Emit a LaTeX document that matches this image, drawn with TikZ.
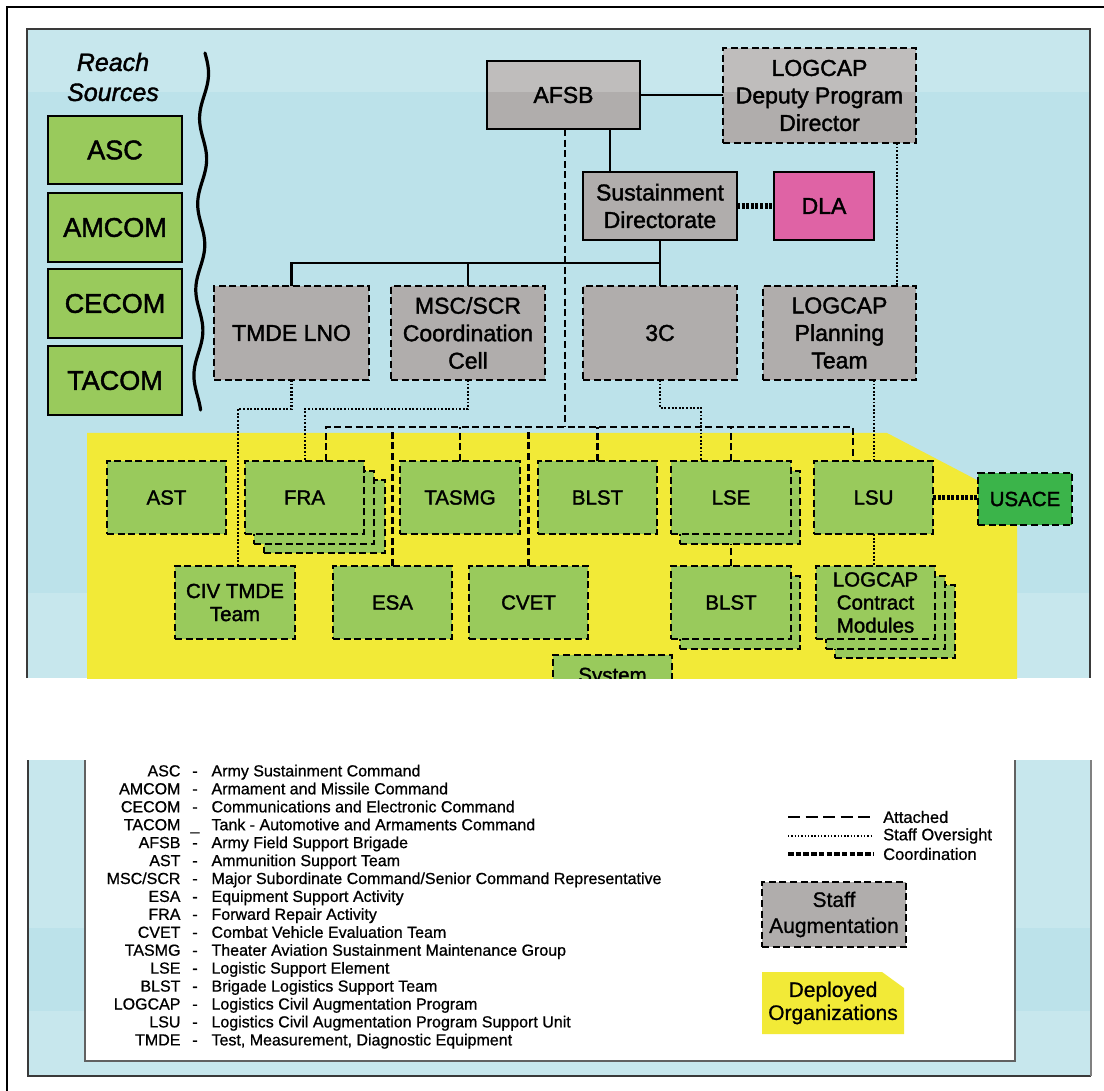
\documentclass[tikz,border=0pt]{standalone}
\usepackage{fontspec}
\setmainfont{Liberation Sans}
\newfontfamily\bsans{Liberation Sans}[FakeBold=1.6]
\newfontfamily\lsans{Liberation Sans}[FakeBold=0.8]
\usetikzlibrary{calc}
\definecolor{bluebg}{HTML}{BCE2EA}
\definecolor{bluelt}{HTML}{C7E7ED}
\definecolor{yel}{HTML}{F2EA37}
\definecolor{grn}{HTML}{99CA5C}
\definecolor{dkgrn}{HTML}{3BB44A}
\definecolor{gry}{HTML}{B0ADAC}
\definecolor{pnk}{HTML}{DF63A5}
\definecolor{edge}{HTML}{3A3A3A}
\newcommand\fRs{\bsans\fontsize{27}{32}\selectfont}
\newcommand\fUp{\bsans\fontsize{23}{27.5}\selectfont}
\newcommand\fLo{\bsans\fontsize{20.5}{23}\selectfont}
\newcommand\fLg{\lsans\fontsize{16}{18}\selectfont}
\newcommand\fLr{\lsans\fontsize{16.5}{19}\selectfont}
\newcommand\fLb{\lsans\fontsize{21}{26}\selectfont}
% box by corners: style, name, x1, y1, x2, y2, text
\newcommand\mkbox[7]{\node[#1, minimum width={(#5)-(#3)}, minimum height={(#6)-(#4)}] (#2) at ({((#3)+(#5))/2},{((#4)+(#6))/2}) {#7};}
\tikzset{
  box/.style={draw=black, line width=2.8pt, inner sep=0pt, outer sep=0pt, align=center},
  dbox/.style={box, dash pattern=on 7pt off 3.6pt},
  upbox/.style={font=\fUp},
  lobox/.style={font=\fLo},
  topband/.style={path picture={\fill[white, opacity=0.2] (path picture bounding box.north west) rectangle ([yshift=#1]path picture bounding box.east);}},
  solidln/.style={line width=2.8pt},
  attached/.style={line width=2.8pt, dash pattern=on 7pt off 3.6pt},
  oversight/.style={line width=2.6pt, dash pattern=on 1.9pt off 1.7pt},
  coordln/.style={line width=5.5pt, dash pattern=on 3pt off 1.6pt},
  legab/.style={font=\fLg, anchor=base east},
  legds/.style={font=\fLg, anchor=base},
  legtx/.style={font=\fLg, anchor=base west},
}
\begin{document}
\begin{tikzpicture}[x=1pt,y=-1pt]
\useasboundingbox (0,0) rectangle (1104,1091);
% outer frame (top and left)
\draw[line width=2pt] (7,1091) -- (7,7) -- (1104,7);

% ---------- upper panel ----------
\begin{scope}
\clip (27,29) rectangle (1091,678);
\fill[bluebg] (27,29) rectangle (1090,678);
\fill[bluelt] (27,29) rectangle (1090,92);
\fill[bluelt] (27,593) rectangle (1090,678);
% deployed (yellow) area
\fill[yel] (87,700) -- (87,433) -- (887,433) -- (1017,501) -- (1017,700) -- cycle;

% wavy separator
\draw[line width=3.2pt, line cap=round] plot[domain=53:410, samples=140, smooth]
  ({205 - 0.022*(\x-53) + 4*sin(4.2*(\x-53))}, \x);

% Reach sources
\node[font=\bsans\fontsize{25}{30}\selectfont\itshape, align=center] (reach) at (113,77) {Reach\\Sources};
\mkbox{box, fill=grn, font=\fRs}{asc}{48}{116}{182}{184}{ASC}
\mkbox{box, fill=grn, font=\fRs}{amcom}{48}{193}{182}{262}{AMCOM}
\mkbox{box, fill=grn, font=\fRs}{cecom}{48}{269}{182}{338}{CECOM}
\mkbox{box, fill=grn, font=\fRs}{tacom}{48}{346}{182}{415}{TACOM}

% ---- coordinates for connectors ----
\coordinate (r1) at (610,0);
\coordinate (r2) at (897,0);
\coordinate (r3) at (874,0);
\coordinate (r4) at (565,0);
\coordinate (busS) at (660,263);
\coordinate (ov1) at (238,409);
\coordinate (ov2) at (305,409);
\coordinate (ov3) at (701,408);
\coordinate (abus) at (565,427);
\coordinate (aL) at (326,427);
\coordinate (aR) at (853,427);

% boxes (upper)
\mkbox{box, fill=gry, upbox, topband=3pt}{afsb}{487}{61}{640}{129}{AFSB}
\mkbox{dbox, fill=gry, upbox, topband=3.5pt}{logdpd}{723}{48}{916}{143}{LOGCAP\\Deputy Program\\Director}
\mkbox{box, fill=gry, upbox}{sdir}{583}{172}{737}{240}{Sustainment\\Directorate}
\mkbox{box, fill=pnk, upbox}{dla}{774}{172}{874}{240}{DLA}
\mkbox{dbox, fill=gry, upbox}{tmde}{214}{286}{369}{380}{TMDE LNO}
\mkbox{dbox, fill=gry, upbox}{msc}{391}{286}{545}{380}{MSC/SCR\\Coordination\\Cell}
\mkbox{dbox, fill=gry, upbox}{c3}{583}{286}{737}{380}{3C}
\mkbox{dbox, fill=gry, upbox}{logpt}{763}{286}{916}{380}{LOGCAP\\Planning\\Team}

% connectors (upper)
\draw[solidln] (afsb.east) -- (afsb.east -| logdpd.west);
\draw[solidln] (r1 |- afsb.south) -- (r1 |- sdir.north);
\draw[coordln] (sdir.east) -- (dla.west);
\draw[solidln] (sdir.south) -- (c3.north);
\draw[solidln] (busS) -| (tmde.north);
\draw[solidln] (busS -| msc.north) -- (msc.north);
\draw[oversight] (r2 |- logdpd.south) -- (r2 |- logpt.north);

% boxes (lower), shadows first
\mkbox{dbox, fill=grn, lobox}{fra3}{264}{480}{385}{553}{}
\mkbox{dbox, fill=grn, lobox}{fra2}{254}{471}{374}{544}{}
\mkbox{dbox, fill=grn, lobox}{fra}{245}{461}{364}{534}{FRA}
\mkbox{dbox, fill=grn, lobox}{ast}{107}{461}{226}{534}{AST}
\mkbox{dbox, fill=grn, lobox}{tasmg}{400}{461}{520}{534}{TASMG}
\mkbox{dbox, fill=grn, lobox}{blst}{538}{461}{657}{534}{BLST}
\mkbox{dbox, fill=grn, lobox}{lse2}{680}{471}{800}{544}{}
\mkbox{dbox, fill=grn, lobox}{lse}{671}{461}{791}{534}{LSE}
\mkbox{dbox, fill=grn, lobox}{lsu}{814}{461}{933}{534}{LSU}
\mkbox{dbox, fill=dkgrn, lobox}{usace}{978}{473}{1072}{525}{USACE}
\mkbox{dbox, fill=grn, lobox}{civ}{175}{566}{295}{639}{CIV TMDE\\Team}
\mkbox{dbox, fill=grn, lobox}{esa}{333}{566}{452}{639}{ESA}
\mkbox{dbox, fill=grn, lobox}{cvet}{469}{566}{588}{639}{CVET}
\mkbox{dbox, fill=grn, lobox}{blst2b}{680}{576}{800}{649}{}
\mkbox{dbox, fill=grn, lobox}{blst2}{671}{566}{791}{639}{BLST}
\mkbox{dbox, fill=grn, lobox}{lcm3}{835}{585}{955}{658}{}
\mkbox{dbox, fill=grn, lobox}{lcm2}{826}{576}{945}{649}{}
\mkbox{dbox, fill=grn, lobox}{lcm}{816}{566}{935}{639}{LOGCAP\\Contract\\Modules}
\mkbox{dbox, fill=grn, lobox}{sys}{553}{655}{672}{699}{System}

% connectors (lower)
\draw[oversight] (tmde.south) |- (ov1) -- (ov1 |- civ.north);
\draw[oversight] (msc.south) |- (ov2) -- (ov2 |- fra.north);
\draw[oversight] (c3.south) |- (ov3) -- (ov3 |- lse.north);
\draw[oversight] (r3 |- logpt.south) -- (r3 |- lsu.north);
\draw[oversight] (r3 |- lsu.south) -- (r3 |- lcm.north);
\draw[attached] (r4 |- afsb.south) -- (abus);
\draw[attached] (aL |- fra.north) -- (aL) -- (aR) -- (aR |- lsu.north);
\foreach \nd in {esa,tasmg,cvet,blst,lse}
  \draw[attached] (\nd.north) -- (\nd.north |- abus);
\draw[attached] (blst2.north) -- (blst2.north |- lse2.south);
\draw[coordln] (lsu.east) -- (lsu.east -| usace.west);
\end{scope}
% upper panel edges
\draw[edge, line width=1.3pt] (27,678) -- (27,29) -- (1090,29) -- (1090,678);

% ---------- lower panel ----------
\fill[bluelt] (28,760) rectangle (1091,1076);
\fill[bluebg] (28,928) rectangle (1091,1011);
\draw[edge, line width=1.5pt] (28,760) -- (28,1076) -- (1091,1076);
\draw[gray, line width=1.3pt] (1091,760) -- (1091,1076);
\fill[white] (85,760) rectangle (1015,1061);
\draw[edge!80, line width=1.5pt] (85,760) -- (85,1061) -- (1015,1061) -- (1015,760);

% glossary
\node[legab] (a1) at (184,776.4) {ASC};      \node[legds] (d1) at (195,776.4) {-}; \node[legtx] (t1) at (208,776.4) {Army Sustainment Command};
\node[legab] (a2) at (184,794.3) {AMCOM};    \node[legds] (d2) at (195,794.3) {-}; \node[legtx] (t2) at (208,794.3) {Armament and Missile Command};
\node[legab] (a3) at (184,812.3) {CECOM};    \node[legds] (d3) at (195,812.3) {-}; \node[legtx] (t3) at (208,812.3) {Communications and Electronic Command};
\node[legab] (a4) at (184,830.2) {TACOM};    \node[legds] (d4) at (195,830.2) {\_}; \node[legtx] (t4) at (208,830.2) {Tank - Automotive and Armaments Command};
\node[legab] (a5) at (184,848.1) {AFSB};     \node[legds] (d5) at (195,848.1) {-}; \node[legtx] (t5) at (208,848.1) {Army Field Support Brigade};
\node[legab] (a6) at (184,866.1) {AST};      \node[legds] (d6) at (195,866.1) {-}; \node[legtx] (t6) at (208,866.1) {Ammunition Support Team};
\node[legab] (a7) at (184,884.0) {MSC/SCR};  \node[legds] (d7) at (195,884.0) {-}; \node[legtx] (t7) at (208,884.0) {Major Subordinate Command/Senior Command Representative};
\node[legab] (a8) at (184,901.9) {ESA};      \node[legds] (d8) at (195,901.9) {-}; \node[legtx] (t8) at (208,901.9) {Equipment Support Activity};
\node[legab] (a9) at (184,919.8) {FRA};      \node[legds] (d9) at (195,919.8) {-}; \node[legtx] (t9) at (208,919.8) {Forward Repair Activity};
\node[legab] (a10) at (184,937.8) {CVET};    \node[legds] (d10) at (195,937.8) {-}; \node[legtx] (t10) at (208,937.8) {Combat Vehicle Evaluation Team};
\node[legab] (a11) at (184,955.7) {TASMG};   \node[legds] (d11) at (195,955.7) {-}; \node[legtx] (t11) at (208,955.7) {Theater Aviation Sustainment Maintenance Group};
\node[legab] (a12) at (184,973.6) {LSE};     \node[legds] (d12) at (195,973.6) {-}; \node[legtx] (t12) at (208,973.6) {Logistic Support Element};
\node[legab] (a13) at (184,991.6) {BLST};    \node[legds] (d13) at (195,991.6) {-}; \node[legtx] (t13) at (208,991.6) {Brigade Logistics Support Team};
\node[legab] (a14) at (184,1009.5) {LOGCAP}; \node[legds] (d14) at (195,1009.5) {-}; \node[legtx] (t14) at (208,1009.5) {Logistics Civil Augmentation Program};
\node[legab] (a15) at (184,1027.4) {LSU};    \node[legds] (d15) at (195,1027.4) {-}; \node[legtx] (t15) at (208,1027.4) {Logistics Civil Augmentation Program Support Unit};
\node[legab] (a16) at (184,1045.4) {TMDE};   \node[legds] (d16) at (195,1045.4) {-}; \node[legtx] (t16) at (208,1045.4) {Test, Measurement, Diagnostic Equipment};

% line legend
\node[font=\fLr, anchor=west, inner sep=0pt] (lgatt) at (883,817) {Attached};
\node[font=\fLr, anchor=west, inner sep=0pt] (lgovs) at (883,836) {Staff Oversight};
\node[font=\fLr, anchor=west, inner sep=0pt] (lgcoo) at (883,854) {Coordination};
\coordinate (lgx) at (788,0);
\draw[line width=2.8pt, dash pattern=on 12pt off 5.5pt] (lgx |- lgatt.west) -- ([xshift=-10pt]lgatt.west);
\draw[line width=1.8pt, dash pattern=on 1.4pt off 1.9pt] (lgx |- lgovs.west) -- ([xshift=-10pt]lgovs.west);
\draw[line width=4.5pt, dash pattern=on 5.5pt off 2.2pt] (lgx |- lgcoo.west) -- ([xshift=-10pt]lgcoo.west);

% box legends
\mkbox{dbox, fill=gry, font=\fLb}{lgstaff}{762}{882}{906}{947}{Staff\\Augmentation}
\fill[yel] (762,972) -- (882,972) -- (904,988) -- (904,1034) -- (762,1034) -- cycle;
\node[font=\lsans\fontsize{21}{23}\selectfont, align=center] (lgdep) at (833,1003) {Deployed\\Organizations};
\end{tikzpicture}
\end{document}
